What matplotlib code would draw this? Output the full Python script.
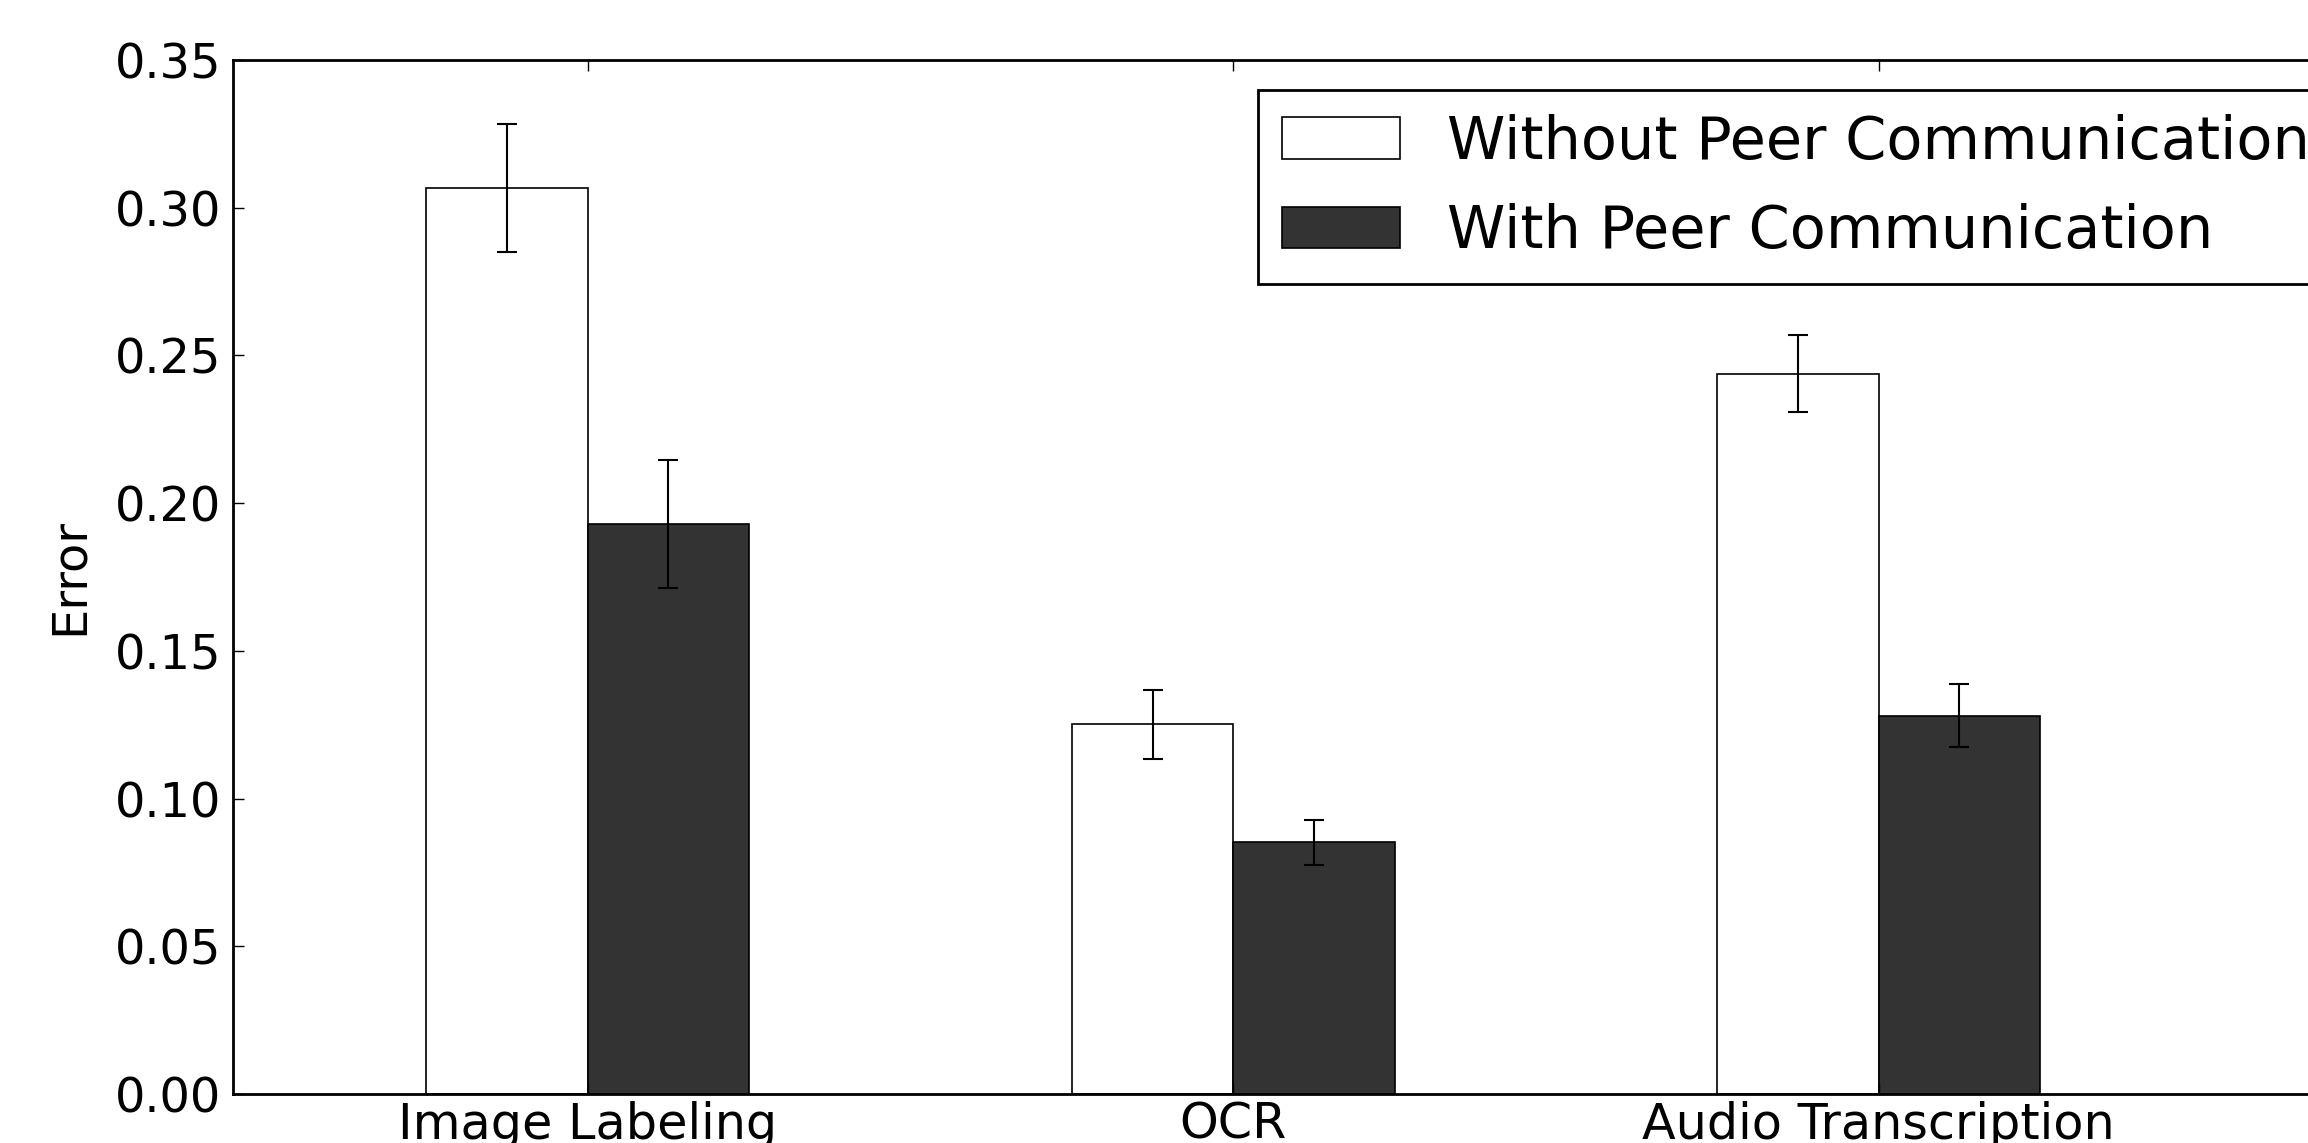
import numpy as np
import matplotlib
matplotlib.use('Agg')
import matplotlib.pyplot as plt

tasks = ['Image Labeling', 'OCR', 'Audio Transcription']
without_peer = [0.3066, 0.1251, 0.2438]
without_err = [0.0217, 0.0117, 0.0130]
with_peer = [0.1929, 0.0852, 0.1281]
with_err = [0.0217, 0.0077, 0.0107]

plt.rcParams['font.family'] = 'DejaVu Sans'

fig = plt.figure(figsize=(23.08, 11.43), dpi=100)
# axes run past the right edge of the figure, like the cropped original
ax = fig.add_axes([0.1008, 0.0429, 0.923, 0.9046])

ind = np.arange(len(tasks))
width = 0.25

ax.bar(ind, without_peer, width, align='edge', color='white', edgecolor='black',
       linewidth=1.2, label='Without Peer Communication')
ax.bar(ind + width, with_peer, width, align='edge', color='#333333', edgecolor='black',
       linewidth=1.2, label='With Peer Communication')

# error bars at bar centres
ax.errorbar(ind + width / 2, without_peer, yerr=without_err, fmt='none',
            ecolor='black', elinewidth=1.5, capsize=7, capthick=1.5)
ax.errorbar(ind + 1.5 * width, with_peer, yerr=with_err, fmt='none',
            ecolor='black', elinewidth=1.5, capsize=7, capthick=1.5)

ax.set_xlim(-0.3, 3.0)
ax.set_ylim(0, 0.35)
ax.set_yticks(np.arange(0, 0.351, 0.05))
ax.set_yticklabels(['%.2f' % v for v in np.arange(0, 0.351, 0.05)])
ax.set_xticks(ind + width)
ax.set_xticklabels(tasks)

ax.tick_params(axis='both', direction='in', length=8, width=1)
ax.tick_params(axis='y', labelsize=34.5, pad=8, right=False)
ax.tick_params(axis='x', labelsize=35.5, pad=5, top=True)
for s in ax.spines.values():
    s.set_linewidth(2)

ax.set_ylabel('Error', fontsize=34.5, labelpad=16)

leg = ax.legend(loc='upper left', bbox_to_anchor=(1258 / 2308, 1 - 90 / 1143),
                bbox_transform=fig.transFigure, borderaxespad=0, fontsize=42.5,
                fancybox=False, framealpha=1, edgecolor='black',
                handlelength=2.0, handletextpad=0.8, labelspacing=0.55,
                borderpad=0.4)
leg.get_frame().set_linewidth(2)

fig.savefig('out.png', dpi=100)
